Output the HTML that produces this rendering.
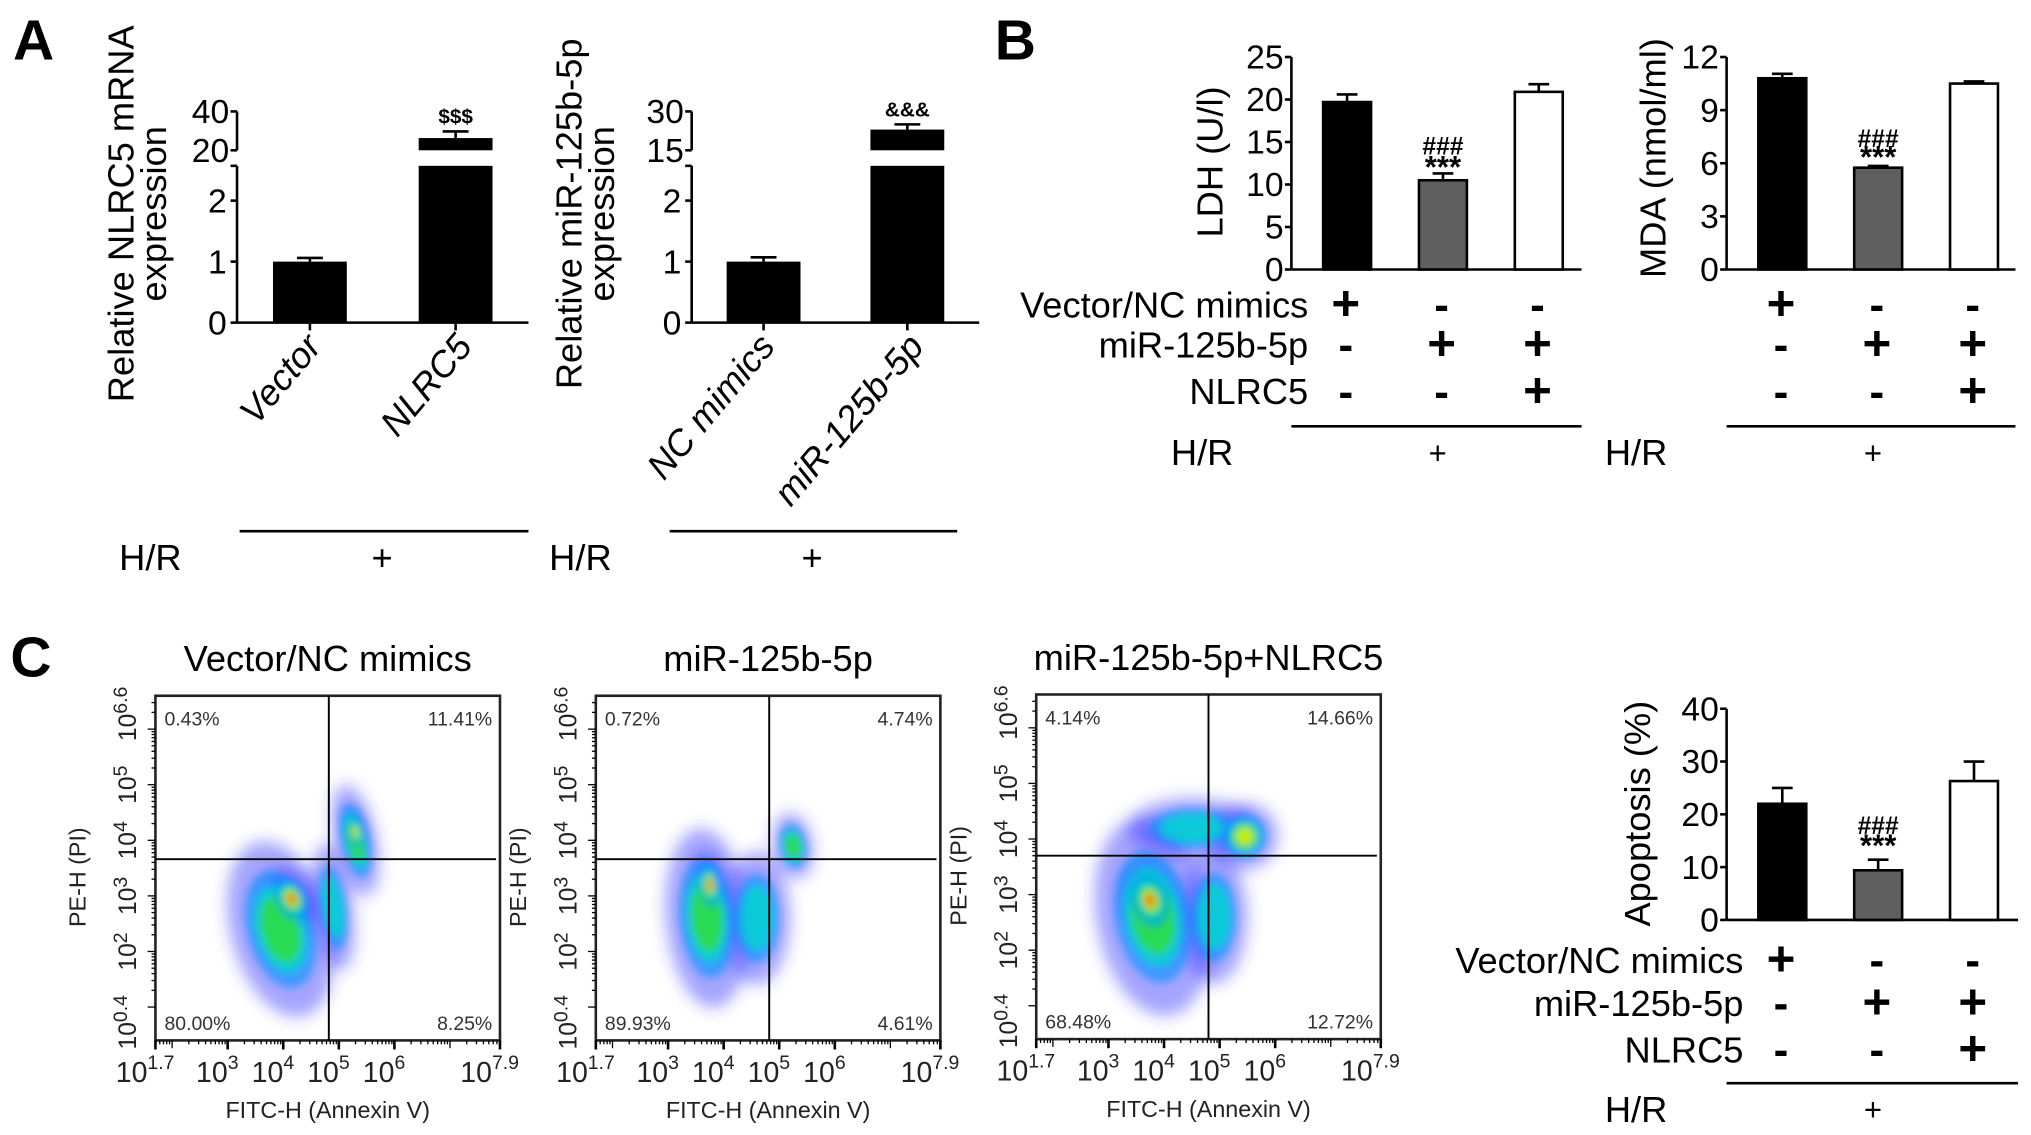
<!DOCTYPE html>
<html><head><meta charset="utf-8"><style>
html,body{margin:0;padding:0;background:#fff;}
svg{display:block;font-family:"Liberation Sans",Arial,sans-serif;}
</style></head><body>
<svg id="fig" width="2031" height="1135" viewBox="0 0 1568 876" preserveAspectRatio="none" xmlns="http://www.w3.org/2000/svg">
<defs>
<filter id="blur3" x="-50%" y="-50%" width="200%" height="200%"><feGaussianBlur stdDeviation="3"/></filter>
<filter id="blur6" x="-50%" y="-50%" width="200%" height="200%"><feGaussianBlur stdDeviation="6"/></filter>
</defs>
</svg>
<script>
// ---------- DATA ----------
const a1Categories = ["Vector", "NLRC5"];
const a1Values = [1.0, 26.3];
const a1Errors = [0.06, 3.4];
const a2Categories = ["NC mimics", "miR-125b-5p"];
const a2Values = [1.0, 23];
const a2Errors = [0.07, 2];
const ldhValues = [19.7, 10.5, 20.9];
const ldhErrors = [0.9, 0.8, 0.9];
const mdaValues = [10.8, 5.75, 10.5];
const mdaErrors = [0.25, 0.1, 0.12];
const apoValues = [22, 9.4, 26.3];
const apoErrors = [3, 2, 3.7];
const groupColors = ["#000000", "#5f5f5f", "#ffffff"];
const ldhTicks = [0, 5, 10, 15, 20, 25];
const mdaTicks = [0, 3, 6, 9, 12];
const apoTicks = [0, 10, 20, 30, 40];
const rowLabels = ["Vector/NC mimics", "miR-125b-5p", "NLRC5"];
const rowSigns = [["+", "-", "-"], ["-", "+", "+"], ["-", "-", "+"]];
const flowTitles = ["Vector/NC mimics", "miR-125b-5p", "miR-125b-5p+NLRC5"];
const flowPercents = [["0.43%", "11.41%", "80.00%", "8.25%"], ["0.72%", "4.74%", "89.93%", "4.61%"], ["4.14%", "14.66%", "68.48%", "12.72%"]];
const flowXTicks = [1.7, 3, 4, 5, 6, 7.9];
const flowXTickLabels = ["1.7", "3", "4", "5", "6", "7.9"];
const flowYTicks = [0.4, 2, 3, 4, 5, 6.6];
const flowYTickLabels = ["0.4", "2", "3", "4", "5", "6.6"];
const flowGateX = [4.82, 4.82, 4.8];
const flowGateY = [3.66, 3.66, 3.7];
// clusters: [logX, logY, spreadX, spreadY, rotationDeg, heatLevel]
const flow1Clusters = [[3.95, 2.4, 0.75, 1.35, -15, 2], [4.9, 2.8, 0.3, 0.95, -8, 1], [5.3, 4.0, 0.32, 0.85, -12, 2], [4.15, 2.95, 0.35, 0.5, -25, 4], [5.3, 4.15, 0.15, 0.35, -10, 3]];
const flow2Clusters = [[3.7, 2.6, 0.62, 1.35, -5, 2], [4.6, 2.6, 0.5, 1.0, 0, 1], [5.25, 3.9, 0.3, 0.5, -10, 2], [3.75, 3.2, 0.22, 0.5, -5, 4]];
const flow3Clusters = [[3.8, 2.6, 0.85, 1.5, -10, 2], [4.9, 2.6, 0.5, 1.0, 0, 1], [4.5, 4.2, 0.95, 0.45, 0, 1], [5.45, 4.05, 0.5, 0.5, -10, 3], [3.75, 2.9, 0.4, 0.6, -15, 4]];

// ---------- HELPERS ----------
const NS = "http://www.w3.org/2000/svg";
const svg = document.getElementById("fig");
function mk(tag, attrs, parent, txt) {
  const e = document.createElementNS(NS, tag);
  for (const k in attrs) e.setAttribute(k, attrs[k]);
  if (txt !== undefined) e.textContent = txt;
  (parent || svg).appendChild(e);
  return e;
}
function line(x1, y1, x2, y2, w, p) { return mk("line", {x1, y1, x2, y2, stroke: "#000", "stroke-width": w || 2}, p); }
function grp(name, p) {
  const g = mk("g", {}, p);
  
  
  return g;
}
function txt(x, y, s, size, p, extra) {
  const a = Object.assign({x, y, "font-size": size, fill: "#000"}, extra || {});
  return mk("text", a, p, s);
}

// panel letters
[["A", 10, 46], ["B", 768, 46], ["C", 8, 522]].forEach(function (L) {
  const t = txt(L[1], L[2], L[0], 44, svg, {"font-weight": "bold"});
  
  
});

// ---------- Panel A: broken-axis bars ----------
function brokenChart(name, axisX, axisEnd, cats, vals, errs, upMin, upMax, symbol, yLab1, yLab2, labX, hrX, plusX, lineX1, lineX2, labelAnchors) {
  const g = grp(name);
  const y0 = 249, lowTop = 128, upBot = 116, upTop = 86, lowMax = 2.57;
  const yLow = v => y0 - v / lowMax * (y0 - lowTop);
  const yUp = v => upBot - (v - upMin) / (upMax - upMin) * (upBot - upTop);
  const xc = i => axisX + (axisEnd - axisX) * (0.25 + 0.5 * i);
  const bw = 57;
  line(axisX, y0, axisX, lowTop, 2, g);
  line(axisX, upBot, axisX, upTop, 2, g);
  line(axisX, y0, axisEnd, y0, 2, g);
  [0, 1, 2].forEach(function (v) {
    line(axisX - 5, yLow(v), axisX, yLow(v), 2, g);
    const t = txt(axisX - 8, yLow(v) + 9, String(v), 26, g, {"text-anchor": "end"});
     
  });
  line(axisX - 5, lowTop, axisX, lowTop, 2, g);
  [upMin, upMax].forEach(function (v) {
    line(axisX - 5, yUp(v), axisX, yUp(v), 2, g);
    const t = txt(axisX - 6, yUp(v) + 9, String(v), 26, g, {"text-anchor": "end"});
     
  });
  vals.forEach(function (v, i) {
    const x = xc(i);
    line(x, y0, x, y0 + 6, 2, g);
    if (v <= lowMax) {
      const r = mk("rect", {x: x - bw / 2, y: yLow(v), width: bw, height: y0 - yLow(v), fill: "#000"}, g);
      
      
      line(x, yLow(v), x, yLow(v + errs[i]), 2, g);
      line(x - 10, yLow(v + errs[i]), x + 10, yLow(v + errs[i]), 2, g);
    } else {
      const r1 = mk("rect", {x: x - bw / 2, y: lowTop, width: bw, height: y0 - lowTop, fill: "#000"}, g);
      
      
      const r2 = mk("rect", {x: x - bw / 2, y: yUp(v), width: bw, height: upBot - yUp(v), fill: "#000"}, g);
      
      
      line(x, yUp(v), x, yUp(v + errs[i]), 2, g);
      line(x - 10, yUp(v + errs[i]), x + 10, yUp(v + errs[i]), 2, g);
      const s = txt(x, yUp(v + errs[i]) - 6, symbol, 16, g, {"text-anchor": "middle", "font-weight": "bold"});
       
    }
    const lx = x + labelAnchors[i];
    const t = txt(lx, 268, cats[i], 28, g, {"text-anchor": "end", "font-style": "italic", transform: "rotate(-50 " + lx + " 268)"});
     
  });
  const yl = txt(0, 0, yLab1, 28, g, {"text-anchor": "middle", transform: "translate(" + labX + " 165) rotate(-90)"});
   
  const yl2 = txt(0, 0, yLab2, 28, g, {"text-anchor": "middle", transform: "translate(" + (labX + 25) + " 165) rotate(-90)"});
   
  line(lineX1, 410, lineX2, 410, 2, g);
  const hr = txt(hrX, 440, "H/R", 28, g);
   
  const pl = txt(plusX, 440, "+", 28, g, {"text-anchor": "middle"});
   
}
brokenChart("chart-nlrc5-mrna", 183, 408, a1Categories, a1Values, a1Errors, 20, 40, "$$$", "Relative NLRC5 mRNA", "expression", 103, 92, 295, 185, 408, [10, 14]);
brokenChart("chart-mir125b-expression", 534, 756, a2Categories, a2Values, a2Errors, 15, 30, "&&&", "Relative miR-125b-5p", "expression", 449, 424, 627, 517, 739, [10, 14]);

// ---------- Bar charts B & C ----------
function barChart(name, axisX, axisEnd, yTopPx, y0, ticks, vals, errs, yTitle, titleX, titleY, rowYs, hrLineY, hrY, hrX, marksY) {
  const g = grp(name);
  const vmax = ticks[ticks.length - 1];
  const ys = v => y0 - v / vmax * (y0 - yTopPx);
  const xc = i => axisX + 43 + i * 74;
  const bw = 37;
  line(axisX, y0, axisX, yTopPx, 2, g);
  line(axisX, y0, axisEnd, y0, 2, g);
  ticks.forEach(function (v) {
    line(axisX - 5, ys(v), axisX, ys(v), 2, g);
    const t = txt(axisX - 6, ys(v) + 9, String(v), 26, g, {"text-anchor": "end"});
     
  });
  vals.forEach(function (v, i) {
    const x = xc(i);
    line(x, ys(v), x, ys(v + errs[i]), 2, g);
    line(x - 8, ys(v + errs[i]), x + 8, ys(v + errs[i]), 2, g);
    const r = mk("rect", {x: x - bw / 2, y: ys(v), width: bw, height: y0 - ys(v), fill: groupColors[i], stroke: "#000", "stroke-width": 2}, g);
    
    
    if (i === 1) {
      const h = txt(x, ys(v) - marksY[0], "###", 19, g, {"text-anchor": "middle", "font-weight": "bold"});
       
      const s = txt(x, ys(v) - marksY[1], "***", 24, g, {"text-anchor": "middle", "font-weight": "bold"});
       
    }
  });
  const yt = txt(0, 0, yTitle, 28, g, {"text-anchor": "middle", transform: "translate(" + titleX + " " + titleY + ") rotate(-90)"});
   
  rowYs.forEach(function (ry, r) {
    rowSigns[r].forEach(function (s, i) {
      const t = txt(xc(i) - 1, ry + 12, s === "+" ? "+" : "-", s === "+" ? 38 : 34, g, {"text-anchor": "middle", "font-weight": "bold"});
       
    });
  });
  line(axisX, hrLineY, axisEnd, hrLineY, 2, g);
  const pl = txt(xc(1) - 4, hrY + 9, "+", 24, g, {"text-anchor": "middle"});
   
  const hr = txt(hrX, hrY + 10, "H/R", 28, g);
   
  return g;
}
function rowLabelText(xEnd, ys, prefix) {
  const g = grp(prefix);
  ys.forEach(function (y, r) {
    const t = txt(xEnd, y + 10, rowLabels[r], 28, g, {"text-anchor": "end"});
     
  });
}
barChart("chart-ldh", 997, 1221, 44, 208, ldhTicks, ldhValues, ldhErrors, "LDH (U/l)", 944, 125, [235, 266, 302], 329, 349, 904, [20, 2]);
rowLabelText(1010, [235, 266, 302], "ldh-condition-labels");
barChart("chart-mda", 1333, 1556, 44, 208, mdaTicks, mdaValues, mdaErrors, "MDA (nmol/ml)", 1286, 122, [235, 266, 302], 329, 349, 1239, [16, 0]);
barChart("chart-apoptosis", 1333, 1558, 547, 710, apoTicks, apoValues, apoErrors, "Apoptosis (%)", 1274, 628, [741, 774, 810], 836, 856, 1239, [28, 11]);
rowLabelText(1346, [741, 774, 810], "apoptosis-condition-labels");

// ---------- Flow cytometry plots ----------
const heatColors = ["#2020ff", "#0090ff", "#00d8d0", "#30e030", "#f0f000", "#ff2a00"];
const heatScale = [1.12, 0.8, 0.6, 0.45, 0.32, 0.2];
function flowPlot(idx, ox, oy, clusters) {
  const g = grp("flow-plot-" + (idx + 1));
  const W = 266, H = 266;
  const fx = v => ox + (v - 1.7) / 6.2 * W;
  const fy = v => oy + H - (v - 0.4) / 6.2 * H;
  const cid = "clip" + idx;
  const cp = mk("clipPath", {id: cid}, g);
  mk("rect", {x: ox, y: oy, width: W, height: H}, cp);
  const dots = mk("g", {"clip-path": "url(#" + cid + ")"}, g);
  
  
  const outerG = mk("g", {filter: "url(#blur6)"}, dots);
  const blurG = mk("g", {filter: "url(#blur3)"}, dots);
  clusters.forEach(function (c) {
    const cx = fx(c[0]), cy = fy(c[1]);
    const rx = c[2] / 6.2 * W, ry = c[3] / 6.2 * H;
    const rot = "rotate(" + c[4] + " " + cx + " " + cy + ")";
    const o = mk("ellipse", {cx, cy, rx: rx * 1.2, ry: ry * 1.2, fill: "#3030ff", "fill-opacity": 0.45, transform: rot}, outerG);
    
    
    for (let i = 1; i <= c[5] + 1; i++) {
      const e = mk("ellipse", {cx, cy, rx: rx * heatScale[i], ry: ry * heatScale[i], fill: heatColors[i], "fill-opacity": i === 1 ? 0.6 : 0.8, transform: rot}, blurG);
      
      
    }
  });
  mk("rect", {x: ox, y: oy, width: W, height: H, fill: "none", stroke: "#222", "stroke-width": 2}, g);
  line(fx(flowGateX[idx]), oy, fx(flowGateX[idx]), oy + H, 1.5, g);
  line(ox, fy(flowGateY[idx]), ox + W - 3, fy(flowGateY[idx]), 1.5, g);
  for (let d = 1; d < 8; d++) for (let m = 1; m < 10; m++) {
    const lv = d + Math.log10(m);
    if (lv >= 1.7 && lv <= 7.9) line(fx(lv), oy + H, fx(lv), oy + H + (m === 1 ? 6 : 3), 1, g);
    if (lv >= 0.4 && lv <= 6.6) line(ox, fy(lv), ox - (m === 1 ? 6 : 3), fy(lv), 1, g);
  }
  flowXTicks.forEach(function (v, i) {
    line(fx(v), oy + H, fx(v), oy + H + 7, 2, g);
    const t = txt(fx(v) - 8, oy + H + 32, "10", 22, g, {"text-anchor": "middle", fill: "#222"});
    mk("tspan", {dy: -10, "font-size": 15}, t, flowXTickLabels[i]);
     
  });
  flowYTicks.forEach(function (v, i) {
    const y = Math.min(Math.max(fy(v), oy + 14), oy + H - 14);
    const t = txt(0, 0, "10", 19, g, {"text-anchor": "middle", fill: "#222", transform: "translate(" + (ox - 15) + " " + y + ") rotate(-90)"});
    mk("tspan", {dy: -7, "font-size": 15}, t, flowYTickLabels[i]);
     
  });
  const p = flowPercents[idx];
  [[ox + 7, oy + 23, "start", p[0]], [ox + W - 6, oy + 23, "end", p[1]], [ox + 7, oy + H - 8, "start", p[2]], [ox + W - 6, oy + H - 8, "end", p[3]]].forEach(function (q) {
    const t = txt(q[0], q[1], q[3], 15, g, {"text-anchor": q[2], fill: "#333"});
     
  });
  const ti = txt(ox + W / 2, oy - 19, flowTitles[idx], 28, g, {"text-anchor": "middle"});
   
  const xl = txt(ox + W / 2, oy + H + 60, "FITC-H (Annexin V)", 18, g, {"text-anchor": "middle", fill: "#222"});
   
  const yl = txt(0, 0, "PE-H (PI)", 18, g, {"text-anchor": "middle", fill: "#222", transform: "translate(" + (ox - 54) + " " + (oy + 140) + ") rotate(-90)"});
   
}
flowPlot(0, 120, 537, flow1Clusters);
flowPlot(1, 460, 537, flow2Clusters);
flowPlot(2, 800, 536, flow3Clusters);
</script>
</body></html>
